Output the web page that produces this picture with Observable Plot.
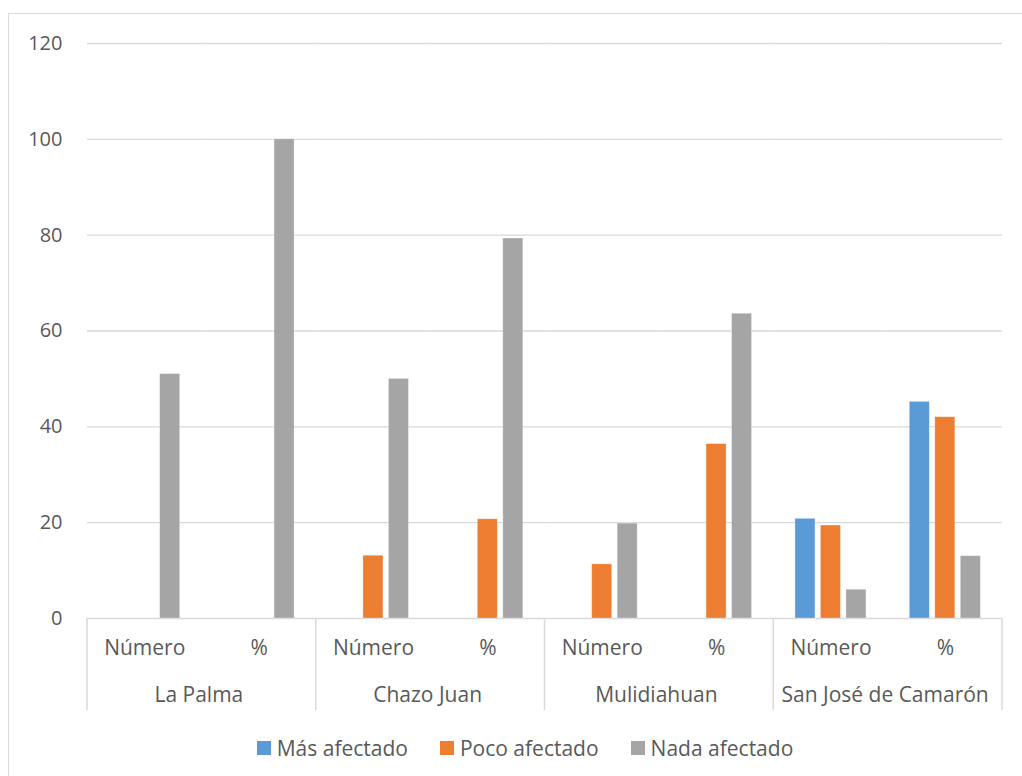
<!DOCTYPE html>
<html>
<head>
<meta charset="utf-8">
<script src="https://cdn.jsdelivr.net/npm/d3@7"></script>
<script src="https://cdn.jsdelivr.net/npm/@observablehq/plot@0.6"></script>
<style>
  html, body { margin: 0; padding: 0; background: #fff; }
  body { width: 1022px; height: 776px; position: relative; overflow: hidden; font-family: "Open Sans", sans-serif; }
  #box { position: absolute; left: 8px; top: 13px; width: 1100px; height: 800px; border: 1.5px solid #d9d9d9; box-sizing: border-box; }
  #chart { position: absolute; left: 0; top: 0; }
  #legend { position: absolute; left: 0; top: 734px; width: 1050px; display: flex; justify-content: center; align-items: center; font-size: 21px; color: #595959; }
  #legend .item { display: flex; align-items: center; margin: 0 16px; }
  #legend .sw { width: 14px; height: 14px; margin-right: 6px; }
</style>
</head>
<body>
<div id="box"></div>
<div id="chart"></div>
<div id="legend"></div>
<script>
// Communities and the two measures reported for each
const groups = ["La Palma", "Chazo Juan", "Mulidiahuan", "San José de Camarón"];
const measures = ["Número", "%"];
const series = ["Más afectado", "Poco afectado", "Nada afectado"];
const colors = ["#5b9bd5", "#ed7d31", "#a5a5a5"];
const yTicks = [0, 20, 40, 60, 80, 100, 120];

// One value per (community, measure) slot, in the order of groups × measures
const masAfectado   = [null, null, null, null, null, null, 20.8, 45.2];
const pocoAfectado  = [null, null, 13.1, 20.7, 11.3, 36.4, 19.4, 42.0];
const nadaAfectado  = [51.0, 100, 50.0, 79.3, 19.8, 63.6, 6.0, 13.0];
const valuesBySeries = [masAfectado, pocoAfectado, nadaAfectado];

const slotKey = (g, m) => `${g}|${m}`;
const slots = groups.flatMap(g => measures.map(m => ({group: g, measure: m, key: slotKey(g, m)})));

const rows = [];
slots.forEach((s, i) => {
  series.forEach((name, k) => {
    const v = valuesBySeries[k][i];
    if (v != null) rows.push({slot: s.key, series: name, value: v});
  });
});

const ink = "#595959";
const lineColor = "#d9d9d9";

const plot = Plot.plot({
  width: 1022,
  height: 720,
  marginLeft: 87,
  marginRight: 20,
  marginTop: 43,
  marginBottom: 102,
  style: {fontFamily: "Open Sans, sans-serif", fontSize: "20px", color: ink, background: "transparent", overflow: "visible"},
  fx: {domain: slots.map(s => s.key), padding: 0, round: false, axis: null},
  x: {domain: series, paddingInner: 0.216, paddingOuter: 0.851, round: false, axis: null},
  y: {domain: [0, 120], ticks: yTicks, tickSize: 0, tickPadding: 25, label: null, line: false},
  color: {domain: series, range: colors},
  marks: [
    Plot.ruleY(yTicks, {stroke: lineColor, strokeWidth: 1.4}),
    Plot.barY(rows, {fx: "slot", x: "series", y: "value", fill: "series", stroke: "#ffffff", strokeOpacity: 0.35, strokeWidth: 0.8}),
    // measure labels under each slot
    Plot.text(slots, {fx: "key", text: "measure", frameAnchor: "bottom", dy: 36, fill: ink, fontSize: 21}),
    // community labels, centred on the boundary between its two slots
    Plot.text(groups, {fx: d => slotKey(d, "Número"), text: d => d, frameAnchor: "bottom-right", textAnchor: "middle", dx: -3, dy: 83, fill: ink, fontSize: 21})
  ]
});

document.getElementById("chart").appendChild(plot);

// Category-axis separators: at each community boundary, from the baseline downward
const fx = plot.scale("fx");
const y = plot.scale("y");
const y0 = y.apply(0);
const edges = groups.map(g => fx.apply(slotKey(g, "Número")));
const lastKey = slots[slots.length - 1].key;
edges.push(fx.apply(lastKey) + fx.bandwidth);
const svg = d3.select(plot);
svg.append("g")
  .selectAll("line")
  .data(edges)
  .join("line")
  .attr("x1", d => d).attr("x2", d => d)
  .attr("y1", y0).attr("y2", y0 + 92)
  .attr("stroke", lineColor).attr("stroke-width", 1.5);

// Legend
const legend = d3.select("#legend");
series.forEach((name, k) => {
  const item = legend.append("div").attr("class", "item");
  item.append("div").attr("class", "sw").style("background", colors[k]);
  item.append("span").text(name);
});
</script>
</body>
</html>
